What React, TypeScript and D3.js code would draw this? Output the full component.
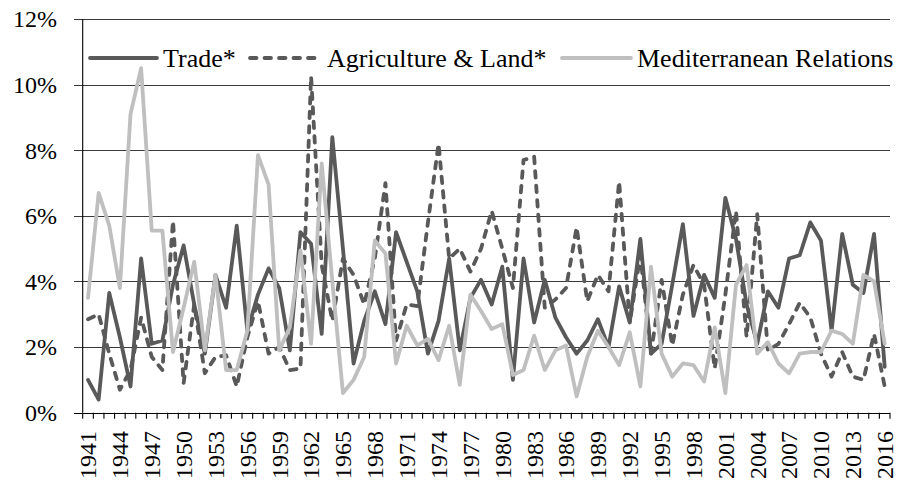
import React from "react";
import * as d3 from "d3";

const years: number[] = d3.range(1941, 2017);

const tradeValues: number[] = [
  1.0, 0.4, 3.65, 2.3, 0.8, 4.7, 2.1, 2.2, 3.9, 5.1,
  3.3, 1.8, 4.2, 3.2, 5.7, 2.5, 3.6, 4.4, 3.8, 1.9,
  5.5, 5.15, 2.4, 8.4, 5.0, 1.5, 2.8, 3.7, 2.7, 5.5,
  4.6, 3.7, 1.8, 2.8, 4.7, 1.9, 3.5, 4.05, 3.3, 4.45,
  1.0, 4.7, 2.75, 4.05, 2.9, 2.3, 1.8, 2.2, 2.85, 2.0,
  3.85, 2.75, 5.3, 1.8, 2.1, 3.9, 5.75, 2.95, 4.2, 3.5,
  6.55, 5.3, 3.3, 2.1, 3.7, 3.2, 4.7, 4.8, 5.8, 5.25,
  2.5, 5.45, 3.9, 3.65, 5.45, 1.4,
];

const agricultureValues: number[] = [
  2.85, 3.0, 1.8, 0.7, 1.3, 2.9, 1.7, 1.3, 5.85, 0.9,
  3.3, 1.2, 1.7, 1.75, 0.8, 2.3, 3.4, 1.8, 2.0, 1.3,
  1.35, 10.25, 4.5, 2.8, 4.7, 4.2, 3.3, 4.7, 7.0, 2.2,
  3.3, 3.25, 5.8, 8.2, 4.7, 5.0, 4.3, 5.0, 6.15, 5.0,
  3.8, 7.7, 7.8, 3.2, 3.45, 3.8, 5.65, 3.4, 4.2, 3.7,
  7.05, 2.75, 4.8, 1.8, 4.05, 2.05, 3.6, 4.5, 3.9, 1.35,
  3.6, 6.15, 2.3, 6.05, 1.9, 2.1, 2.7, 3.35, 2.9, 1.8,
  1.1, 1.85, 1.1, 1.0, 2.4, 0.8,
];

const mediterraneanValues: number[] = [
  3.5, 6.7, 5.7, 3.8, 9.1, 10.5, 5.55, 5.55, 1.85, 3.2,
  4.6, 1.9, 4.2, 1.3, 1.3, 2.5, 7.85, 6.95, 1.9, 2.6,
  4.95, 2.1, 7.6, 4.0, 0.6, 1.0, 1.7, 5.25, 4.85, 1.5,
  2.65, 2.05, 2.25, 1.6, 2.65, 0.85, 3.6, 3.1, 2.55, 2.7,
  1.15, 1.3, 2.35, 1.3, 1.9, 2.05, 0.5, 1.7, 2.5, 2.0,
  1.45, 2.45, 0.8, 4.45, 1.8, 1.1, 1.5, 1.45, 0.95, 2.6,
  0.6, 3.9, 4.5, 1.8, 2.15, 1.5, 1.2, 1.8, 1.85, 1.85,
  2.5, 2.4, 2.1, 4.2, 4.0, 2.1,
];

const yTicks: number[] = [0, 2, 4, 6, 8, 10, 12];
const seriesNames: string[] = ["Trade*", "Agriculture & Land*", "Mediterranean Relations"];

const W = 902;
const H = 484;
const left = 82.7;
const right = 890;
const top = 19;
const bottom = 412.7;

const FONT = "Liberation Serif, Tinos, Times New Roman, DejaVu Serif, serif";
const DARK = "#595959";
const LIGHT = "#bfbfbf";

export default function App() {
  const x = d3.scaleBand<number>().domain(years).range([left, right]).padding(0);
  const y = d3.scaleLinear().domain([0, 12]).range([bottom, top]);
  const cx = (yr: number) => (x(yr) as number) + x.bandwidth() / 2;

  const mkLine = (vals: number[]) =>
    d3
      .line<number>()
      .x((_, i) => cx(years[i]))
      .y((v) => y(v))(vals) as string;

  const series = [
    { name: seriesNames[0], vals: tradeValues, color: DARK, dash: undefined as string | undefined },
    { name: seriesNames[1], vals: agricultureValues, color: DARK, dash: "6.5,8" },
    { name: seriesNames[2], vals: mediterraneanValues, color: LIGHT, dash: undefined },
  ];

  const legendItems = [
    { x0: 90, x1: 157, tx: 163 },
    { x0: 250, x1: 320, tx: 327 },
    { x0: 562, x1: 631, tx: 637 },
  ];
  const legendY = 58;

  const boundaries = years.map((yr) => x(yr) as number).concat([right]);
  const txtStyle = { fontFamily: FONT };

  return (
    <svg
      width={W}
      height={H}
      style={{ position: "absolute", left: 0, top: 0, background: "#fff" }}
    >
      <rect x={0} y={0} width={W} height={H} fill="#fff" />
      {yTicks.map((t) => (
        <g key={t}>
          <line
            x1={74}
            x2={right}
            y1={Math.round(y(t)) + 0.5}
            y2={Math.round(y(t)) + 0.5}
            stroke={t === 0 ? "#000" : "#3a3a3a"}
            strokeWidth={1.1}
          />
          <text
            x={57}
            y={y(t)}
            dy="0.35em"
            textAnchor="end"
            fontSize={24}
            fill="#000"
            style={txtStyle}
          >
            {t}%
          </text>
        </g>
      ))}
      <line x1={left} x2={left} y1={top} y2={bottom} stroke="#000" strokeWidth={1.1} />
      {boundaries.map((bx, i) => (
        <line
          key={i}
          x1={bx}
          x2={bx}
          y1={bottom}
          y2={bottom + 6}
          stroke="#000"
          strokeWidth={1.1}
        />
      ))}
      {years
        .filter((_, i) => i % 3 === 0)
        .map((yr) => (
          <text
            key={yr}
            transform={`translate(${cx(yr)},${431}) rotate(-90)`}
            dy="0.35em"
            textAnchor="end"
            fontSize={24}
            fill="#000"
            style={txtStyle}
          >
            {yr}
          </text>
        ))}
      {series.map((s) => (
        <path
          key={s.name}
          d={mkLine(s.vals)}
          fill="none"
          stroke={s.color}
          strokeWidth={3.8}
          strokeLinejoin="round"
          strokeLinecap="round"
          strokeDasharray={s.dash}
        />
      ))}
      {series.map((s, i) => (
        <g key={"lg" + i}>
          <line
            x1={legendItems[i].x0}
            x2={legendItems[i].x1}
            y1={legendY}
            y2={legendY}
            stroke={s.color}
            strokeWidth={3.8}
            strokeLinecap="round"
            strokeDasharray={s.dash}
          />
          <text
            x={legendItems[i].tx}
            y={legendY}
            dy="0.35em"
            fontSize={26}
            fill="#000"
            style={txtStyle}
          >
            {s.name}
          </text>
        </g>
      ))}
    </svg>
  );
}
